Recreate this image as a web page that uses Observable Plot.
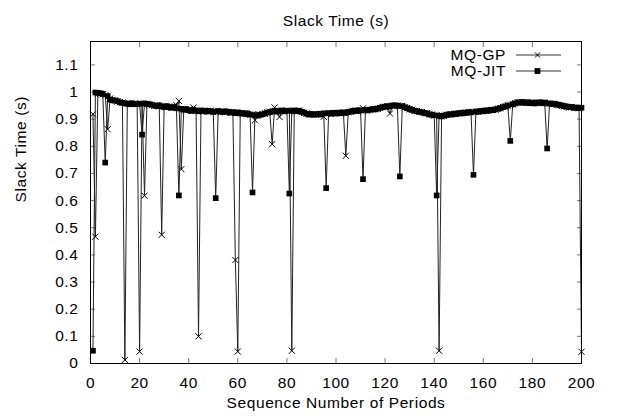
<!DOCTYPE html>
<html><head><meta charset="utf-8">
<script src="https://cdn.jsdelivr.net/npm/d3@7"></script>
<script src="https://cdn.jsdelivr.net/npm/@observablehq/plot@0.6"></script>
<style>body{margin:0;background:#fff} svg{display:block}</style>
</head><body><div id="chart"></div>
<script>
// Sequence numbers of periods (1..200)
const periods = d3.range(1, 201);

const mqGP = [
0.918,0.467,0.995,0.993,0.991,0.988,0.863,0.976,0.971,0.969,
0.965,0.963,0.961,0.013,0.959,0.957,0.956,0.958,0.955,0.044,
0.956,0.618,0.957,0.953,0.952,0.949,0.951,0.947,0.474,0.946,
0.944,0.947,0.942,0.944,0.951,0.967,0.716,0.936,0.933,0.935,
0.931,0.943,0.930,0.100,0.931,0.928,0.930,0.929,0.931,0.926,
0.928,0.929,0.926,0.928,0.925,0.927,0.923,0.925,0.381,0.044,
0.922,0.920,0.922,0.918,0.916,0.918,0.896,0.914,0.917,0.919,
0.920,0.925,0.927,0.808,0.943,0.929,0.908,0.931,0.930,0.932,
0.929,0.047,0.931,0.930,0.932,0.926,0.923,0.921,0.918,0.918,
0.917,0.919,0.919,0.916,0.909,0.921,0.923,0.919,0.922,0.922,
0.923,0.921,0.924,0.765,0.925,0.927,0.931,0.931,0.929,0.932,
0.940,0.933,0.933,0.934,0.936,0.937,0.938,0.941,0.945,0.945,
0.947,0.921,0.949,0.950,0.950,0.947,0.949,0.943,0.941,0.936,
0.935,0.930,0.930,0.926,0.926,0.922,0.922,0.917,0.917,0.913,
0.915,0.047,0.911,0.912,0.916,0.917,0.918,0.919,0.920,0.921,
0.922,0.923,0.924,0.925,0.926,0.927,0.927,0.928,0.929,0.930,
0.931,0.932,0.933,0.934,0.935,0.939,0.940,0.945,0.946,0.951,
0.953,0.954,0.959,0.961,0.962,0.962,0.961,0.961,0.960,0.960,
0.959,0.961,0.961,0.960,0.960,0.957,0.957,0.955,0.956,0.953,
0.951,0.949,0.947,0.945,0.943,0.944,0.941,0.942,0.940,0.043
];

const mqJIT = [
0.047,0.998,0.997,0.995,0.993,0.740,0.985,0.972,0.970,0.968,
0.966,0.962,0.960,0.958,0.957,0.955,0.958,0.956,0.955,0.957,
0.843,0.958,0.956,0.955,0.953,0.950,0.948,0.951,0.947,0.945,
0.948,0.944,0.942,0.945,0.940,0.619,0.938,0.935,0.937,0.933,
0.930,0.934,0.931,0.929,0.932,0.930,0.928,0.931,0.929,0.927,
0.609,0.930,0.928,0.926,0.929,0.927,0.924,0.926,0.922,0.925,
0.921,0.923,0.919,0.921,0.917,0.630,0.915,0.913,0.916,0.918,
0.921,0.924,0.926,0.929,0.931,0.928,0.930,0.932,0.929,0.931,
0.626,0.930,0.932,0.929,0.931,0.927,0.924,0.920,0.917,0.919,
0.916,0.918,0.920,0.917,0.921,0.646,0.922,0.920,0.923,0.921,
0.924,0.922,0.925,0.923,0.926,0.928,0.930,0.932,0.930,0.933,
0.679,0.934,0.932,0.935,0.937,0.936,0.939,0.942,0.944,0.946,
0.948,0.947,0.950,0.951,0.949,0.689,0.948,0.944,0.940,0.937,
0.934,0.931,0.929,0.927,0.925,0.923,0.921,0.918,0.916,0.914,
0.619,0.912,0.910,0.913,0.915,0.918,0.917,0.920,0.919,0.922,
0.921,0.924,0.923,0.926,0.925,0.695,0.928,0.927,0.930,0.929,
0.932,0.931,0.934,0.933,0.936,0.938,0.941,0.944,0.947,0.950,
0.820,0.955,0.958,0.962,0.961,0.963,0.960,0.962,0.959,0.961,
0.958,0.960,0.962,0.959,0.961,0.792,0.958,0.956,0.957,0.954,
0.952,0.950,0.948,0.946,0.944,0.945,0.942,0.943,0.941,0.942
];

const seriesNames = ["MQ-GP", "MQ-JIT"];
const xTicks = [0, 20, 40, 60, 80, 100, 120, 140, 160, 180, 200];
const yTicks = [0, 0.1, 0.2, 0.3, 0.4, 0.5, 0.6, 0.7, 0.8, 0.9, 1, 1.1];
const yTickLabels = ["0", "0.1", "0.2", "0.3", "0.4", "0.5", "0.6", "0.7", "0.8", "0.9", "1", "1.1"];
const titleText = "Slack Time (s)";
const xLabelText = "Sequence Number of Periods";
const yLabelText = "Slack Time (s)";

const gpData = periods.map((p, i) => ({x: p, y: mqGP[i]}));
const jitData = periods.map((p, i) => ({x: p, y: mqJIT[i]}));

const FONT = "'Liberation Sans', Arial, Helvetica, sans-serif";
const FS = 15.5;
const gpR = 2.9, jitR = 3.2;

function legend(index, scales, values, dims) {
  const g = d3.create("svg:g").attr("font-family", FONT).attr("font-size", FS);
  const rx = dims.width - dims.marginRight;
  seriesNames.forEach((name, i) => {
    const y = dims.marginTop + 13.5 + i * 16;
    g.append("text").attr("x", rx - 75).attr("y", y).attr("dy", "0.35em")
      .attr("text-anchor", "end").attr("fill", "black").text(name);
    g.append("line").attr("x1", rx - 65).attr("x2", rx - 20)
      .attr("y1", y + 0.5).attr("y2", y + 0.5).attr("stroke", "#333").attr("stroke-width", 1);
    const cx = rx - 43.5;
    if (i === 0) {
      const s = 2.6;
      g.append("path").attr("d", `M${cx - s},${y + 0.5 - s}L${cx + s},${y + 0.5 + s}M${cx - s},${y + 0.5 + s}L${cx + s},${y + 0.5 - s}`)
        .attr("stroke", "black").attr("stroke-width", 1);
    } else {
      g.append("rect").attr("x", cx - 2.9).attr("y", y + 0.5 - 2.9).attr("width", 5.8).attr("height", 5.8).attr("fill", "black");
    }
  });
  return g.node();
}

const plot = Plot.plot({
  width: 617,
  height: 416,
  marginLeft: 90,
  marginRight: 36,
  marginTop: 41,
  marginBottom: 53,
  style: {fontFamily: FONT, fontSize: FS + "px", letterSpacing: "0.6px", color: "black", background: "white", overflow: "visible"},
  x: {domain: [0, 200]},
  y: {domain: [0, 1.186]},
  marks: [
    // tick labels
    Plot.axisY(yTicks, {anchor: "left", tickSize: 0, tickPadding: 12, tickFormat: (d, i) => yTickLabels[i], label: null, fontSize: FS}),
    Plot.axisX(xTicks, {anchor: "bottom", tickSize: 0, tickPadding: 13.5, label: null, fontSize: FS}),
    // inward ticks on all sides
    Plot.axisY(yTicks, {anchor: "left", tickSize: -5, tickFormat: () => "", label: null, stroke: "#777"}),
    Plot.axisY(yTicks, {anchor: "right", tickSize: -5, tickFormat: () => "", label: null, stroke: "#777"}),
    Plot.axisX(xTicks, {anchor: "bottom", tickSize: -5, tickFormat: () => "", label: null, stroke: "#777"}),
    Plot.axisX(xTicks, {anchor: "top", tickSize: -5, tickFormat: () => "", label: null, stroke: "#777"}),
    // series
    Plot.line(gpData, {x: "x", y: "y", stroke: "#222", strokeWidth: 1}),
    Plot.dot(gpData, {x: "x", y: "y", symbol: "times", r: gpR, stroke: "black", strokeWidth: 1}),
    Plot.line(jitData, {x: "x", y: "y", stroke: "#222", strokeWidth: 1}),
    Plot.dot(jitData, {x: "x", y: "y", symbol: "square", r: jitR, fill: "black", stroke: "none"}),
    Plot.frame({stroke: "black", strokeWidth: 1}),
    // titles
    Plot.text([titleText], {frameAnchor: "top", dy: -27, fontSize: FS, fill: "black"}),
    Plot.text([xLabelText], {frameAnchor: "bottom", dy: 44, fontSize: FS, fill: "black"}),
    Plot.text([yLabelText], {frameAnchor: "left", dx: -69, rotate: -90, fontSize: FS, fill: "black"}),
    legend
  ]
});
document.getElementById("chart").appendChild(plot);
</script>
</body></html>
